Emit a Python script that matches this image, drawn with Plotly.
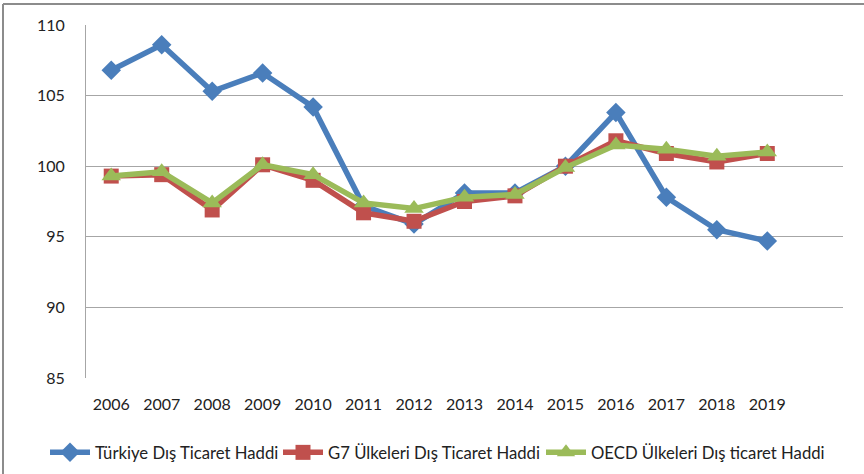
import plotly.graph_objects as go

years = ["2006", "2007", "2008", "2009", "2010", "2011", "2012",
         "2013", "2014", "2015", "2016", "2017", "2018", "2019"]

turkiye = [106.8, 108.6, 105.3, 106.6, 104.2, 97.2, 95.9,
           98.1, 98.1, 100.0, 103.8, 97.8, 95.5, 94.7]
g7 = [99.3, 99.4, 96.9, 100.1, 99.0, 96.7, 96.1,
      97.5, 97.9, 100.0, 101.8, 100.9, 100.3, 100.9]
oecd = [99.3, 99.6, 97.4, 100.1, 99.4, 97.4, 97.0,
        97.8, 98.0, 99.9, 101.5, 101.2, 100.7, 101.0]

names = ["Türkiye Dış Ticaret Haddi", "G7 Ülkeleri Dış Ticaret Haddi",
         "OECD Ülkeleri Dış ticaret Haddi"]
series = [turkiye, g7, oecd]
colors = ["#4a7ebb", "#c0504d", "#9bbb59"]
symbols = ["diamond", "square", "triangle-up"]
sizes = [15, 15, 17]
legend_ids = ["legend", "legend2", "legend3"]
legend_left_px = [45, 278, 541]

FONT = "Lato, Open Sans, sans-serif"
xpos = list(range(len(years)))

L, R, T, B = 86, 21, 25, 96
W, H = 864, 474
pw, ph = W - L - R, H - T - B

def px_x(p):
    return (p - L) / pw

def px_y(p):
    return (H - B - p) / ph

fig = go.Figure()
for vals, name, col, sym, sz, lg in zip(series, names, colors, symbols, sizes, legend_ids):
    fig.add_trace(go.Scatter(
        x=xpos, y=vals, name=name, mode="lines+markers", legend=lg,
        line=dict(color=col, width=5.5),
        marker=dict(symbol=sym, size=sz, color=col, line=dict(width=0)),
    ))

legend_style = dict(orientation="h", xanchor="left", yanchor="top", y=px_y(435),
                    font=dict(size=16.7, family=FONT, color="#222222"),
                    itemwidth=40, bgcolor="rgba(0,0,0,0)")
legends = {lg: dict(legend_style, x=px_x(xp)) for lg, xp in zip(legend_ids, legend_left_px)}

fig.update_layout(
    width=W, height=H,
    margin=dict(l=L, r=R, t=T, b=B, autoexpand=False),
    paper_bgcolor="white", plot_bgcolor="white",
    font=dict(family=FONT, size=16, color="#222222"),
    showlegend=True,
    xaxis=dict(range=[-0.5, len(years) + 0.5], tickmode="array", tickvals=xpos,
               ticktext=years, showgrid=False, zeroline=False,
               showline=False, ticks="", ticklen=0, ticklabelstandoff=15,
               tickfont=dict(size=16)),
    yaxis=dict(range=[85, 110], tickvals=[85, 90, 95, 100, 105, 110],
               showgrid=True, gridcolor="#a6a6a6", gridwidth=1, zeroline=False,
               showline=True, linecolor="#a6a6a6", linewidth=1, ticks="",
               ticklabelstandoff=17, tickfont=dict(size=16)),
    shapes=[
        dict(type="line", xref="paper", yref="paper", x0=px_x(3), x1=px_x(3),
             y0=px_y(4), y1=px_y(480), line=dict(color="#8c8c8c", width=2)),
        dict(type="line", xref="paper", yref="paper", x0=px_x(3), x1=px_x(870),
             y0=px_y(4), y1=px_y(4), line=dict(color="#8c8c8c", width=2)),
    ],
    **legends,
)

fig.write_html("out.html")
